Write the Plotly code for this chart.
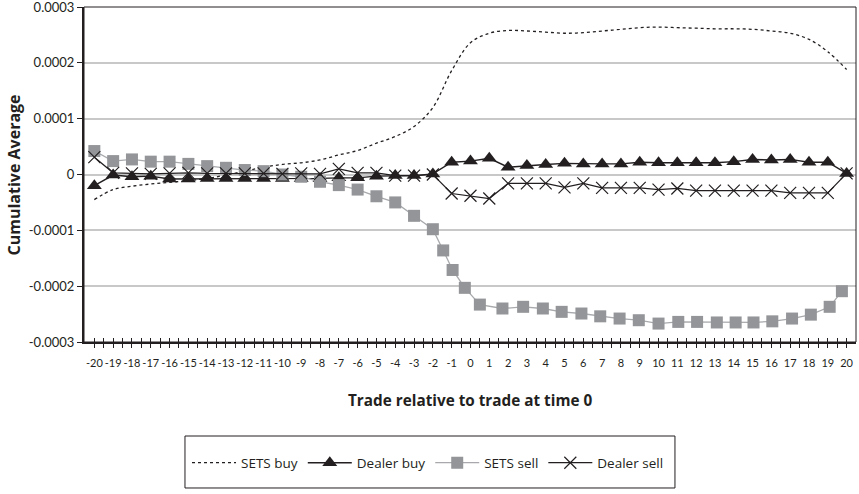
import plotly.graph_objects as go

# ---------------- data (values in units of the y axis) ----------------
trade_index = list(range(-20, 21))
x_tick_labels = [str(v) for v in trade_index]

sets_buy = [-0.000045, -0.000027, -0.000021, -0.000017, -0.000014, -0.000011, -0.000007,
            -0.000001, 0.000006, 0.000013, 0.000018, 0.000021, 0.000026, 0.000035,
            0.000043, 0.000056, 0.000068, 0.000086, 0.000120, 0.000186, 0.000236,
            0.000253, 0.000258, 0.000257, 0.000255, 0.000253, 0.000254, 0.000257,
            0.000260, 0.000263, 0.000264, 0.000263, 0.000262, 0.000261, 0.000261,
            0.000260, 0.000257, 0.000253, 0.000242, 0.000220, 0.000188]

dealer_buy = [-0.000020, -0.000001, -0.000004, -0.000003, -0.000008, -0.000008, -0.000007,
              -0.000007, -0.000007, -0.000007, -0.000007, -0.000007, -0.000007, -0.000006,
              -0.000006, -0.000003, -0.000002, -0.000002, 0.000001, 0.000022, 0.000024,
              0.000029, 0.000013, 0.000016, 0.000018, 0.000020, 0.000019, 0.000019,
              0.000019, 0.000022, 0.000021, 0.000021, 0.000021, 0.000021, 0.000023,
              0.000027, 0.000026, 0.000027, 0.000022, 0.000022, 0.000002]

sets_sell_x = [-20, -19, -18, -17, -16, -15, -14, -13, -12, -11, -10, -9, -8, -7, -6, -5,
               -4, -3, -2, -1.45, -0.95, -0.3, 0.5, 1.7, 2.8, 3.85, 4.85, 5.9, 6.9, 7.93,
               8.95, 10, 11.05, 12.05, 13.1, 14.1, 15.05, 16.05, 17.1, 18.1, 19.1, 19.75]
sets_sell = [0.000042, 0.000024, 0.000027, 0.000023, 0.000023, 0.000019, 0.000015,
             0.000012, 0.000008, 0.000006, 0.000000, -0.000004, -0.000013, -0.000019,
             -0.000027, -0.000039, -0.000050, -0.000074, -0.000098, -0.000136, -0.000171,
             -0.000203, -0.000233, -0.000240, -0.000237, -0.000240, -0.000246, -0.000249,
             -0.000254, -0.000258, -0.000261, -0.000267, -0.000264, -0.000264, -0.000265,
             -0.000265, -0.000265, -0.000263, -0.000258, -0.000251, -0.000237, -0.000209]

dealer_sell = [0.000031, 0.000003, 0.000002, 0.000001, 0.000002, 0.000003, 0.000002,
               0.000002, 0.000002, 0.000002, 0.000001, 0.000002, 0.000001, 0.000010,
               0.000003, 0.000003, -0.000002, -0.000002, 0.000000, -0.000034, -0.000038,
               -0.000043, -0.000016, -0.000016, -0.000016, -0.000023, -0.000016, -0.000024,
               -0.000024, -0.000024, -0.000027, -0.000025, -0.000029, -0.000029, -0.000029,
               -0.000029, -0.000029, -0.000033, -0.000033, -0.000033, 0.000002]

y_tick_vals = [0.0003, 0.0002, 0.0001, 0, -0.0001, -0.0002, -0.0003]
y_tick_text = ["0.0003", "0.0002", "0.0001", "0", "-0.0001", "-0.0002", "-0.0003"]
half_steps = [v / 2 for v in range(-40, 41)]

FONT = "Lato, 'Open Sans', sans-serif"
TITLE_FONT = "'Open Sans', Lato, sans-serif"
INK = "#231f20"
EPS = 1e-9

fig = go.Figure()
fig.add_trace(go.Scatter(x=trade_index, y=sets_buy, name="SETS buy", mode="lines",
                         line=dict(color=INK, width=1.3, dash="dot", shape="spline", smoothing=1)))
fig.add_trace(go.Scatter(x=trade_index, y=dealer_buy, name="Dealer buy", mode="lines+markers",
                         line=dict(color=INK, width=1.4),
                         marker=dict(symbol="triangle-up", size=13, color=INK)))
fig.add_trace(go.Scatter(x=sets_sell_x, y=sets_sell, name="SETS sell", mode="lines+markers",
                         line=dict(color="#a7a9ac", width=1.3),
                         marker=dict(symbol="square", size=12, color="#939598")))
fig.add_trace(go.Scatter(x=trade_index, y=dealer_sell, name="Dealer sell", mode="lines+markers",
                         line=dict(color=INK, width=1.2),
                         marker=dict(symbol="x-thin-open", size=12, color=INK,
                                     line=dict(color=INK, width=1.2))))
# empty trace to activate the overlay axis carrying the inner halves of the cross ticks
fig.add_trace(go.Scatter(x=[], y=[], xaxis="x2", showlegend=False, hoverinfo="skip"))

fig.update_layout(
    width=859, height=494,
    margin=dict(l=84, r=3, t=7, b=152, autoexpand=False),
    paper_bgcolor="white", plot_bgcolor="white",
    font=dict(family=FONT, color=INK, size=12),
    showlegend=True,
    legend=dict(orientation="h", x=0.4456, xanchor="center", y=-0.361, yanchor="middle",
                bgcolor="rgba(0,0,0,0)", borderwidth=0, itemwidth=44,
                font=dict(family=TITLE_FONT, size=13.5, color=INK), traceorder="normal"),
    xaxis=dict(range=[-20.55, 20.5], tickmode="array", tickvals=trade_index,
               ticktext=x_tick_labels, ticks="outside", ticklen=4, tickwidth=1,
               tickcolor=INK, showgrid=False, zeroline=False, showline=True,
               linecolor=INK, linewidth=2, tickfont=dict(size=11, family=FONT),
               tickangle=0, automargin=False, ticklabelstandoff=6,
               ticklabeloverflow="allow",
               minor=dict(tickvals=half_steps, ticks="outside", ticklen=4,
                          tickwidth=1, tickcolor=INK, showgrid=False)),
    xaxis2=dict(range=[-20.55, 20.5], overlaying="x", anchor="y", side="bottom",
                tickmode="array", tickvals=half_steps, ticks="inside", ticklen=4,
                tickwidth=1, tickcolor=INK, showticklabels=False, showgrid=False,
                zeroline=False, showline=False, automargin=False),
    yaxis=dict(range=[-0.0003 - EPS, 0.0003 + EPS], tickmode="array", tickvals=y_tick_vals,
               ticktext=y_tick_text, ticks="outside", ticklen=5, tickwidth=1,
               tickcolor=INK, showgrid=True, gridcolor="#c8c8c8", gridwidth=1.5,
               zeroline=True, zerolinecolor="#c8c8c8", zerolinewidth=1.5,
               showline=True, linecolor=INK, linewidth=2, automargin=False,
               ticklabeloverflow="allow",
               tickfont=dict(size=13, family=FONT)),
    shapes=[
        dict(type="rect", xref="x domain", yref="y domain", x0=0, x1=1, y0=0, y1=1,
             line=dict(color=INK, width=1), fillcolor="rgba(0,0,0,0)", layer="above"),
        dict(type="rect", xref="paper", yref="paper", x0=0.1308, x1=0.7655,
             y0=-0.4358, y1=-0.2806, line=dict(color=INK, width=1),
             fillcolor="rgba(0,0,0,0)"),
    ],
    annotations=[
        dict(text="<b>Trade relative to trade at time 0</b>", xref="paper", yref="paper",
             x=0.5, y=-0.173, xanchor="center", yanchor="middle", showarrow=False,
             font=dict(size=15.3, family=TITLE_FONT, color=INK)),
        dict(text="<b>Cumulative Average</b>", xref="paper", yref="paper",
             x=-0.0907, y=0.5, xanchor="center", yanchor="middle", showarrow=False,
             textangle=-90, font=dict(size=16, family=TITLE_FONT, color=INK)),
    ],
)

fig.write_html("out.html", config={"displayModeBar": False},
               post_script="document.body.style.margin='0px';document.body.style.overflow='hidden';")
